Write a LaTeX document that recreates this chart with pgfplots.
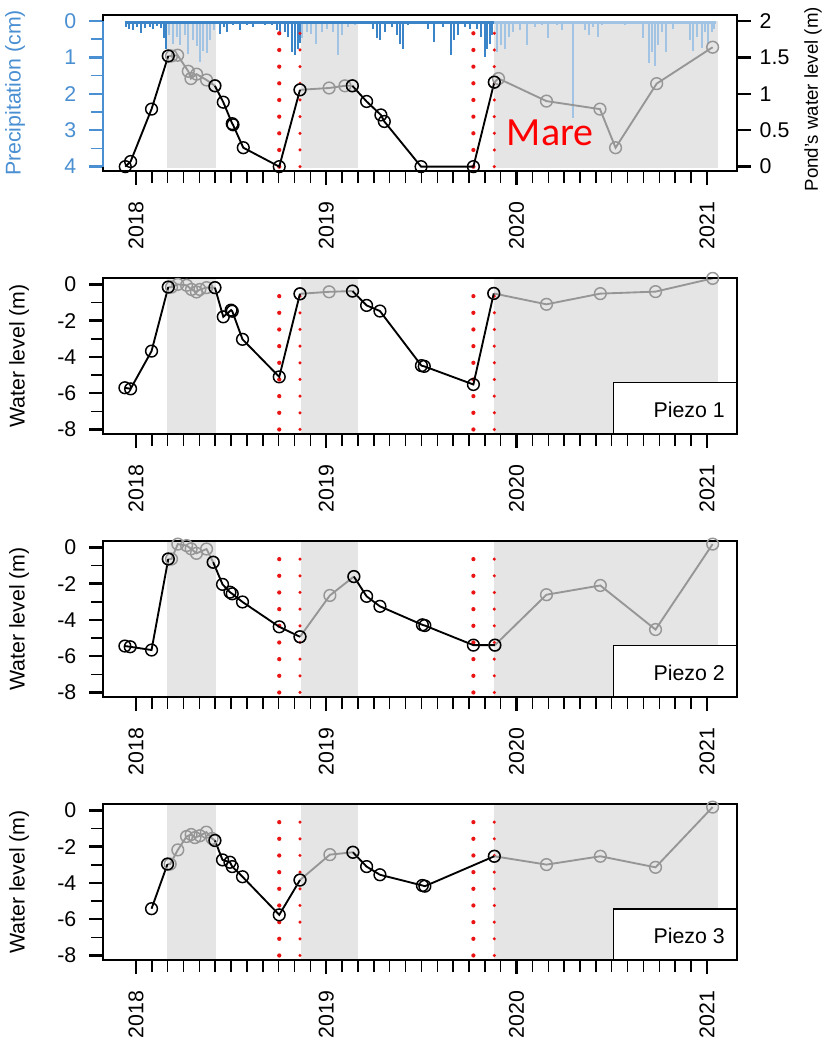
\documentclass[border=0pt]{standalone}
\usepackage{pgfplots}
\pgfplotsset{compat=1.18}
\usepackage{fontspec}
\setmainfont{Liberation Sans}
\newfontfamily\carlito{Carlito}

\definecolor{pblue}{RGB}{74,143,210}
\definecolor{bardark}{RGB}{60,132,200}
\definecolor{barlight}{RGB}{162,196,228}
\definecolor{shade}{RGB}{229,229,229}
\definecolor{linegray}{RGB}{150,150,150}
\definecolor{dotred}{RGB}{235,20,20}

\pgfplotsset{
  panel/.style={
    scale only axis, width=475.5pt, height=117pt,
    xmin=2017.827, xmax=2021.158,
    xtick={2018,2019,2020,2021},
    xticklabels={2018,2019,2020,2021},
    minor x tick num=11,
    tick align=outside,
    xtick pos=bottom,
    major tick length=10.5pt, minor tick length=9pt,
    every major tick/.append style={line width=1.8pt, black},
    every minor tick/.append style={line width=1.1pt, black},
    axis line style={line width=1.1pt},
    tick label style={font=\fontsize{16}{19}\selectfont},
    label style={font=\fontsize{16}{19}\selectfont},
    xticklabel style={rotate=90, anchor=east},
    xticklabel shift=9pt,
    /pgf/number format/assume math mode=true,
  },
  piezo/.style={
    panel, ytick pos=left,
    ymin=-8.25, ymax=0.35,
    ytick={-8,-6,-4,-2,0},
    minor ytick={-7,-5,-3,-1},
    yticklabel shift=6pt,
    axis on top,
    ylabel={Water level (m)},
    ylabel style={at={(axis description cs:-0.1325,0.5)}, anchor=center},
  },
  blk/.style={black, line width=1.4pt, mark=o, mark size=4.4pt, mark options={line width=1.1pt}},
  gry/.style={linegray, line width=1.4pt, mark=o, mark size=4.4pt, mark options={line width=1.1pt}},
  reddots/.style={dotred, line width=3.2pt, line cap=round, dash pattern=on 0pt off 12.5pt},
  reddots2/.style={reddots, line width=2.6pt},
  shaded/.style={fill=shade, draw=none, forget plot},
}

\begin{document}
\begin{tikzpicture}
\path[use as bounding box] (0,0) rectangle (624pt,-782.25pt);

% ---------- panel 1: precipitation + pond level ----------
\begin{axis}[panel, at={(77.25pt,-128.25pt)}, anchor=south west,
  y dir=reverse, ymin=-0.165, ymax=4.12,
  ytick={0,1,2,3,4}, minor ytick={0.5,1.5,2.5,3.5},
  ytick pos=left, clip=false,
  yticklabel shift=6pt,
  every major y tick/.append style={pblue},
  every minor y tick/.append style={pblue},
  yticklabel style={text=pblue},
  ylabel={Precipitation (cm)},
  ylabel style={text=pblue, at={(axis description cs:-0.1388,0.5)}, anchor=center},
]
\addplot[shaded] coordinates {(2018.163,0) (2018.163,4.05) (2018.42,4.05) (2018.42,0)};
\addplot[shaded] coordinates {(2018.867,0) (2018.867,4.05) (2019.167,4.05) (2019.167,0)};
\addplot[shaded] coordinates {(2019.88,0) (2019.88,4.05) (2021.06,4.05) (2021.06,0)};
% daily precipitation
\addplot[bardark, ycomb, line width=1.5pt] coordinates {
(2017.947,0.16) (2017.965,0.21) (2017.983,0.26) (2018.004,0.16) (2018.025,0.32) (2018.047,0.19)
(2018.074,0.16) (2018.091,0.23) (2018.112,0.13) (2018.130,0.19) (2018.147,0.48) (2018.156,0.76)
(2018.441,0.35) (2018.462,0.16) (2018.480,0.30) (2018.511,0.12) (2018.547,0.26) (2018.582,0.12)
(2018.616,0.16) (2018.643,0.07) (2018.678,0.10) (2018.713,0.12) (2018.739,0.26) (2018.757,0.35)
(2018.783,0.30) (2018.800,0.44) (2018.821,0.85) (2018.836,0.94) (2018.850,0.76) (2018.860,0.60)
(2019.186,0.07) (2019.247,0.21) (2019.265,0.48) (2019.282,0.53) (2019.308,0.30) (2019.344,0.16)
(2019.370,0.39) (2019.387,0.62) (2019.401,0.76) (2019.431,0.12) (2019.536,0.21) (2019.566,0.58)
(2019.615,0.16) (2019.654,0.94) (2019.671,0.53) (2019.694,0.39) (2019.729,0.16) (2019.755,0.21)
(2019.790,0.21) (2019.811,0.44) (2019.834,1.00) (2019.846,0.76) (2019.860,0.62) (2019.872,0.39)
};
\addplot[barlight, ycomb, line width=1.5pt] coordinates {
(2018.175,0.38) (2018.193,0.62) (2018.214,0.44) (2018.231,0.65) (2018.257,0.39) (2018.275,0.90)
(2018.298,0.53) (2018.319,0.68) (2018.336,1.12) (2018.354,0.83) (2018.372,0.87) (2018.389,0.53)
(2018.410,0.26)
(2018.871,0.48) (2018.897,0.30) (2018.920,0.35) (2018.944,0.62) (2018.976,0.30) (2019.002,0.21)
(2019.037,0.30) (2019.060,0.94) (2019.084,0.39) (2019.116,0.16) (2019.151,0.12)
(2019.899,0.85) (2019.916,0.67) (2019.939,0.76) (2019.962,0.44) (2019.983,0.30) (2020.018,0.26)
(2020.053,0.67) (2020.097,0.16) (2020.132,0.12) (2020.167,0.48) (2020.211,0.12) (2020.237,0.26)
(2020.298,2.67) (2020.359,0.26) (2020.380,0.39) (2020.403,0.16) (2020.429,0.44) (2020.450,0.12)
(2020.500,0.07) (2020.570,0.12) (2020.666,0.48) (2020.696,1.15) (2020.713,0.85) (2020.727,1.24)
(2020.745,0.67) (2020.762,0.30) (2020.783,0.85) (2020.823,0.21) (2020.911,0.53) (2020.928,0.81)
(2020.946,0.44) (2020.973,0.74) (2020.990,0.30) (2021.007,0.62) (2021.025,0.30) (2021.039,0.21)
};
\addplot[bardark, line width=2pt] coordinates {(2017.94,0.04) (2019.88,0.04)};
\addplot[barlight, line width=2pt] coordinates {(2019.88,0.04) (2021.05,0.04)};
% dry-period limits
\addplot[reddots] coordinates {(2018.753,4) (2018.753,0.3)};
\addplot[reddots2] coordinates {(2018.862,4) (2018.862,0.3)};
\addplot[reddots] coordinates {(2019.773,4) (2019.773,0.3)};
\addplot[reddots2] coordinates {(2019.883,4) (2019.883,0.3)};
% blue left axis line
\addplot[pblue, line width=1.6pt] coordinates {(2017.827,0) (2017.827,4)};
\node[anchor=base west, inner sep=0pt, text=red, font=\carlito\fontsize{30}{34}\selectfont]
  at (axis cs:2019.948,3.43) {Mare};
\end{axis}

\begin{axis}[panel, at={(77.25pt,-128.25pt)}, anchor=south west,
  hide x axis, axis y line*=right, y axis line style={-},
  ymin=-0.06, ymax=2.0825,
  ytick={0,0.5,1,1.5,2},
  yticklabel shift=3pt,
  ylabel={Pond's water level (m)},
  ylabel style={font=\fontsize{14}{17}\selectfont, at={(axis description cs:1.12,0.46)}, anchor=center},
]
\addplot[gry] coordinates {(2018.170,1.52) (2018.187,1.52) (2018.219,1.53) (2018.275,1.31) (2018.289,1.21)
  (2018.319,1.27) (2018.371,1.19) (2018.415,1.11)};
\addplot[gry] coordinates {(2018.862,1.055) (2019.015,1.08) (2019.098,1.11) (2019.137,1.11)};
\addplot[gry] coordinates {(2019.883,1.16) (2019.905,1.21) (2020.157,0.90) (2020.438,0.79)
  (2020.520,0.26) (2020.736,1.14) (2021.030,1.64)};
\addplot[blk] coordinates {(2017.944,0.00) (2017.972,0.07) (2018.082,0.79) (2018.170,1.52)};
\addplot[blk] coordinates {(2018.415,1.11) (2018.459,0.885) (2018.506,0.59) (2018.510,0.575)
  (2018.564,0.26) (2018.753,0.00) (2018.862,1.055)};
\addplot[blk] coordinates {(2019.137,1.11) (2019.212,0.895) (2019.287,0.71) (2019.305,0.62)
  (2019.498,0.00) (2019.773,0.00) (2019.883,1.16)};
\end{axis}

% ---------- panel 2: Piezo 1 ----------
\begin{axis}[piezo, at={(77.25pt,-325.5pt)}, anchor=south west]
\addplot[shaded] coordinates {(2018.163,-8.25) (2018.163,0.35) (2018.42,0.35) (2018.42,-8.25)};
\addplot[shaded] coordinates {(2018.867,-8.25) (2018.867,0.35) (2019.167,0.35) (2019.167,-8.25)};
\addplot[shaded] coordinates {(2019.88,-8.25) (2019.88,0.35) (2021.06,0.35) (2021.06,-8.25)};
\addplot[reddots] coordinates {(2018.753,-8) (2018.753,-0.3)};
\addplot[reddots2] coordinates {(2018.862,-8) (2018.862,-0.3)};
\addplot[reddots] coordinates {(2019.773,-8) (2019.773,-0.3)};
\addplot[reddots2] coordinates {(2019.883,-8) (2019.883,-0.3)};
\addplot[gry] coordinates {(2018.170,-0.15) (2018.187,-0.15) (2018.220,0.00) (2018.266,-0.05) (2018.292,-0.28)
  (2018.318,-0.42) (2018.336,-0.28) (2018.371,-0.18) (2018.415,-0.18)};
\addplot[gry] coordinates {(2018.862,-0.52) (2019.015,-0.41) (2019.138,-0.37)};
\addplot[gry] coordinates {(2019.880,-0.50) (2020.157,-1.10) (2020.440,-0.51) (2020.730,-0.40) (2021.030,0.33)};
\addplot[blk] coordinates {(2017.942,-5.70) (2017.972,-5.76) (2018.082,-3.68) (2018.170,-0.15)};
\addplot[blk] coordinates {(2018.415,-0.18) (2018.459,-1.79) (2018.500,-1.42) (2018.506,-1.48)
  (2018.560,-3.03) (2018.753,-5.10) (2018.862,-0.52)};
\addplot[blk] coordinates {(2019.138,-0.37) (2019.212,-1.16) (2019.282,-1.47) (2019.500,-4.48)
  (2019.515,-4.52) (2019.773,-5.52) (2019.880,-0.50)};
\draw[line width=1.1pt, fill=white] (axis cs:2020.508,-8.25) rectangle (axis cs:2021.158,-5.42);
\node[anchor=east, inner sep=0pt, font=\fontsize{16}{19}\selectfont] at (axis cs:2021.095,-6.9) {Piezo 1};
\end{axis}

% ---------- panel 3: Piezo 2 ----------
\begin{axis}[piezo, at={(77.25pt,-522.75pt)}, anchor=south west]
\addplot[shaded] coordinates {(2018.163,-8.25) (2018.163,0.35) (2018.42,0.35) (2018.42,-8.25)};
\addplot[shaded] coordinates {(2018.867,-8.25) (2018.867,0.35) (2019.167,0.35) (2019.167,-8.25)};
\addplot[shaded] coordinates {(2019.88,-8.25) (2019.88,0.35) (2021.06,0.35) (2021.06,-8.25)};
\addplot[reddots] coordinates {(2018.753,-8) (2018.753,-0.3)};
\addplot[reddots2] coordinates {(2018.862,-8) (2018.862,-0.3)};
\addplot[reddots] coordinates {(2019.773,-8) (2019.773,-0.3)};
\addplot[reddots2] coordinates {(2019.883,-8) (2019.883,-0.3)};
\addplot[gry] coordinates {(2018.170,-0.64) (2018.187,-0.64) (2018.220,0.18) (2018.266,0.10) (2018.290,-0.08)
  (2018.318,-0.33) (2018.371,-0.09) (2018.406,-0.82)};
\addplot[gry] coordinates {(2018.862,-4.93) (2019.019,-2.65) (2019.145,-1.61)};
\addplot[gry] coordinates {(2019.886,-5.39) (2020.157,-2.61) (2020.440,-2.10) (2020.730,-4.53) (2021.030,0.18)};
\addplot[blk] coordinates {(2017.942,-5.44) (2017.970,-5.48) (2018.082,-5.66) (2018.170,-0.64)};
\addplot[blk] coordinates {(2018.406,-0.82) (2018.455,-2.04) (2018.494,-2.47) (2018.506,-2.56)
  (2018.560,-3.01) (2018.753,-4.38) (2018.862,-4.93)};
\addplot[blk] coordinates {(2019.145,-1.61) (2019.212,-2.70) (2019.282,-3.25) (2019.505,-4.27)
  (2019.518,-4.31) (2019.773,-5.39) (2019.886,-5.39)};
\draw[line width=1.1pt, fill=white] (axis cs:2020.508,-8.25) rectangle (axis cs:2021.158,-5.42);
\node[anchor=east, inner sep=0pt, font=\fontsize{16}{19}\selectfont] at (axis cs:2021.095,-6.9) {Piezo 2};
\end{axis}

% ---------- panel 4: Piezo 3 ----------
\begin{axis}[piezo, at={(77.25pt,-720pt)}, anchor=south west]
\addplot[shaded] coordinates {(2018.163,-8.25) (2018.163,0.35) (2018.42,0.35) (2018.42,-8.25)};
\addplot[shaded] coordinates {(2018.867,-8.25) (2018.867,0.35) (2019.167,0.35) (2019.167,-8.25)};
\addplot[shaded] coordinates {(2019.88,-8.25) (2019.88,0.35) (2021.06,0.35) (2021.06,-8.25)};
\addplot[reddots] coordinates {(2018.753,-8) (2018.753,-0.3)};
\addplot[reddots2] coordinates {(2018.862,-8) (2018.862,-0.3)};
\addplot[reddots] coordinates {(2019.773,-8) (2019.773,-0.3)};
\addplot[reddots2] coordinates {(2019.883,-8) (2019.883,-0.3)};
\addplot[gry] coordinates {(2018.166,-2.96) (2018.180,-2.96) (2018.220,-2.18) (2018.266,-1.44) (2018.290,-1.33)
  (2018.310,-1.50) (2018.336,-1.40) (2018.370,-1.20) (2018.400,-1.55) (2018.415,-1.66)};
\addplot[gry] coordinates {(2018.862,-3.84) (2019.019,-2.44) (2019.140,-2.31)};
\addplot[gry] coordinates {(2019.883,-2.53) (2020.157,-2.99) (2020.440,-2.53) (2020.730,-3.14) (2021.030,0.18)};
\addplot[blk] coordinates {(2018.082,-5.42) (2018.166,-2.96)};
\addplot[blk] coordinates {(2018.415,-1.66) (2018.455,-2.73) (2018.494,-2.86) (2018.506,-3.10)
  (2018.560,-3.66) (2018.753,-5.76) (2018.862,-3.84)};
\addplot[blk] coordinates {(2019.140,-2.31) (2019.212,-3.10) (2019.282,-3.55) (2019.505,-4.14)
  (2019.518,-4.18) (2019.883,-2.53)};
\draw[line width=1.1pt, fill=white] (axis cs:2020.508,-8.25) rectangle (axis cs:2021.158,-5.45);
\node[anchor=east, inner sep=0pt, font=\fontsize{16}{19}\selectfont] at (axis cs:2021.095,-6.9) {Piezo 3};
\end{axis}
\end{tikzpicture}
\end{document}
